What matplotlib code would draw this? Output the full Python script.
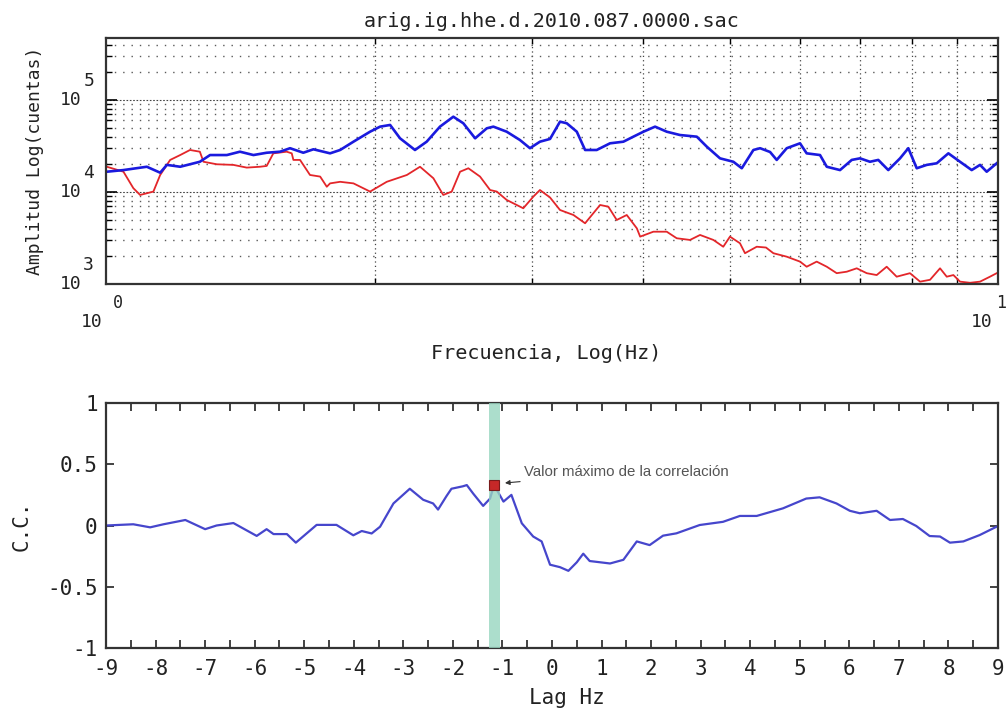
import matplotlib
matplotlib.use("Agg")
import matplotlib.pyplot as plt
from matplotlib.ticker import NullFormatter, MultipleLocator
from matplotlib.transforms import offset_copy

# espectros (Hz, cuentas)
freq_blue = [1.002, 1.046, 1.111, 1.150, 1.170, 1.211, 1.274, 1.308, 1.366, 1.413,
             1.463, 1.514, 1.567, 1.608, 1.664, 1.708, 1.783, 1.830, 1.894, 1.977,
             2.029, 2.082, 2.136, 2.220, 2.288, 2.368, 2.451, 2.515, 2.593, 2.672,
             2.718, 2.813, 2.911, 2.987, 3.065, 3.146, 3.228, 3.285, 3.371, 3.444,
             3.549, 3.673, 3.802, 3.901, 4.004, 4.126, 4.252, 4.400, 4.595, 4.715,
             4.879, 5.050, 5.161, 5.318, 5.411, 5.552, 5.648, 5.796, 5.998, 6.102,
             6.316, 6.427, 6.651, 6.855, 7.003, 7.185, 7.341, 7.533, 7.765, 7.933,
             8.107, 8.320, 8.537, 8.797, 9.066, 9.343, 9.546, 9.712, 9.966]
amp_blue = [16600, 17300, 18800, 16200, 19700, 18800, 21300, 25200, 25200, 27400,
            25200, 26700, 27400, 29900, 26700, 29100, 26300, 28600, 35200, 45200,
            51300, 53500, 38300, 28600, 35200, 51300, 65800, 55800, 38300, 49200,
            51300, 45200, 36700, 29900, 35200, 37700, 58100, 55800, 45200, 28600,
            28600, 33800, 35200, 39900, 45200, 51300, 45200, 41600, 39900, 31100,
            23200, 21300, 18100, 28600, 29900, 27200, 22300, 29900, 33800, 26300,
            25200, 18800, 17300, 22300, 23200, 21300, 22300, 17300, 23200, 29900,
            18100, 19700, 20500, 26300, 21300, 17300, 19700, 16600, 20500]

freq_red = [1.002, 1.046, 1.073, 1.092, 1.130, 1.150, 1.180, 1.211, 1.242, 1.274,
            1.286, 1.331, 1.389, 1.438, 1.488, 1.514, 1.540, 1.594, 1.615, 1.622,
            1.650, 1.693, 1.738, 1.768, 1.783, 1.830, 1.894, 1.977, 2.064, 2.174,
            2.249, 2.328, 2.388, 2.441, 2.494, 2.548, 2.626, 2.695, 2.742, 2.813,
            2.936, 3.013, 3.065, 3.146, 3.228, 3.342, 3.444, 3.580, 3.657, 3.737,
            3.835, 3.936, 3.970, 4.108, 4.252, 4.363, 4.515, 4.634, 4.796, 4.920,
            5.006, 5.137, 5.204, 5.364, 5.494, 5.599, 5.796, 5.998, 6.102, 6.262,
            6.427, 6.594, 6.768, 6.944, 7.125, 7.311, 7.502, 7.698, 7.967, 8.177,
            8.390, 8.610, 8.760, 8.912, 9.066, 9.303, 9.546, 9.795, 9.966]
amp_red = [18800, 16600, 11000, 9280, 10100, 15300, 22300, 25200, 28600, 27400,
           21300, 20000, 19700, 18400, 18800, 19200, 26300, 27400, 26300, 22300,
           22300, 15300, 14700, 11400, 12400, 12900, 12400, 10100, 12900, 15300,
           18800, 14100, 9280, 10100, 16600, 18100, 14700, 10500, 10100, 8190,
           6650, 8890, 10500, 8710, 6370, 5620, 4570, 7220, 6920, 4960,
           5620, 4030, 3270, 3700, 3700, 3140, 3010, 3410, 3010, 2540,
           3270, 2770, 2160, 2540, 2490, 2160, 1980, 1750, 1540, 1750,
           1540, 1310, 1360, 1480, 1310, 1250, 1540, 1200, 1310, 1060,
           1110, 1480, 1200, 1250, 1060, 1030, 1060, 1200, 1310]

# correlacion cruzada
lag = [-9.0, -8.45, -8.11, -7.84, -7.4, -7.0, -6.77, -6.43, -5.96, -5.76,
       -5.62, -5.35, -5.17, -4.75, -4.35, -4.01, -3.84, -3.64, -3.47, -3.2,
       -2.87, -2.6, -2.4, -2.3, -2.13, -2.03, -1.8, -1.72, -1.59, -1.39,
       -1.25, -1.17, -0.98, -0.82, -0.61, -0.38, -0.21, -0.04, 0.16, 0.33,
       0.50, 0.63, 0.76, 1.17, 1.44, 1.71, 1.97, 2.24, 2.51, 2.98,
       3.45, 3.79, 4.13, 4.66, 5.13, 5.40, 5.74, 6.01, 6.21, 6.55,
       6.82, 7.08, 7.35, 7.62, 7.83, 8.03, 8.30, 8.63, 9.0]
cc = [0.0, 0.01, -0.015, 0.01, 0.045, -0.03, 0.0, 0.02, -0.085, -0.03,
      -0.07, -0.07, -0.14, 0.005, 0.005, -0.08, -0.045, -0.065, -0.01, 0.18,
      0.30, 0.21, 0.18, 0.13, 0.24, 0.30, 0.32, 0.33, 0.26, 0.16,
      0.22, 0.33, 0.195, 0.25, 0.018, -0.09, -0.13, -0.32, -0.34, -0.37,
      -0.30, -0.23, -0.29, -0.31, -0.28, -0.13, -0.16, -0.083, -0.064, 0.004,
      0.03, 0.078, 0.078, 0.14, 0.22, 0.23, 0.18, 0.12, 0.10, 0.12,
      0.045, 0.053, -0.004, -0.086, -0.09, -0.14, -0.13, -0.078, -0.004]
max_lag, max_cc = -1.17, 0.33
band = (-1.27, -1.05)

lag_ticks = list(range(-9, 10))
cc_ticks = [-1, -0.5, 0, 0.5, 1]
cc_labels = ["-1", "-0.5", "0", "0.5", "1"]
amp_decades = [3, 4, 5]
freq_decades = [0, 1]

mono = "DejaVu Sans Mono"
ink = "#222222"
fig = plt.figure(figsize=(10.08, 7.11), dpi=100)

# --- espectros ---
ax1 = fig.add_axes([0.1052, 0.6006, 0.8849, 0.346])
ax1.set_xscale("log")
ax1.set_yscale("log")
ax1.plot(freq_red, amp_red, color="#e3262a", lw=1.3)
ax1.plot(freq_blue, amp_blue, color="#1a1ade", lw=1.9)
ax1.set_xlim(1, 10)
ax1.set_ylim(1e3, 4.72e5)
ax1.xaxis.set_major_formatter(NullFormatter())
ax1.xaxis.set_minor_formatter(NullFormatter())
ax1.yaxis.set_major_formatter(NullFormatter())
ax1.yaxis.set_minor_formatter(NullFormatter())
ax1.yaxis.grid(True, which="major", color="#444444", ls=(0, (1.5, 1.5)), lw=0.8)
ax1.yaxis.grid(True, which="minor", color="#5a5a5a", ls=(0, (1, 5)), lw=1.0)
ax1.xaxis.grid(True, which="minor", color="#444444", ls=(0, (1, 2.5)), lw=0.9)
ax1.tick_params(which="both", direction="in", top=True, right=True)
ax1.tick_params(which="major", length=8, width=1.2)
ax1.tick_params(which="minor", length=4, width=1.0)
for s in ax1.spines.values():
    s.set_linewidth(1.6)
    s.set_color("#333333")

ytr = ax1.get_yaxis_transform()
for k in amp_decades:
    ax1.text(-0.028, 10 ** k, "10", transform=ytr, ha="right", va="center",
             fontsize=13, family=mono, color=ink)
    ax1.text(-0.0255, 10 ** k, str(k),
             transform=offset_copy(ytr, fig=fig, y=19, units="dots"),
             ha="left", va="center", fontsize=13, family=mono, color=ink)
xtr = ax1.get_xaxis_transform()
for k in freq_decades:
    dx = -3 if k == 0 else -5
    ex = 7 if k == 0 else -2
    ax1.text(10 ** k, 0, "10", transform=offset_copy(xtr, fig=fig, x=dx, y=-38, units="dots"),
             ha="right", va="center", fontsize=13, family=mono, color=ink)
    ax1.text(10 ** k, 0, str(k), transform=offset_copy(xtr, fig=fig, x=ex, y=-19, units="dots"),
             ha="left", va="center", fontsize=12, family=mono, color=ink)

ax1.set_title("arig.ig.hhe.d.2010.087.0000.sac", fontsize=14.5, family=mono,
              color=ink, pad=8)
ax1.set_xlabel("Frecuencia, Log(Hz)", fontsize=14.5, family=mono, color=ink)
ax1.xaxis.set_label_coords(0.494, -0.245)
ax1.set_ylabel("Amplitud Log(cuentas)", fontsize=13, family=mono, color=ink)
ax1.yaxis.set_label_coords(-0.07, 0.5)

# --- correlacion ---
ax2 = fig.add_axes([0.1052, 0.0886, 0.8849, 0.3446])
ax2.plot(lag, cc, color="#4646cc", lw=1.6, zorder=2)
ax2.axvspan(band[0], band[1], color="#98d6c0", alpha=0.8, lw=0, zorder=3)
ax2.plot([max_lag], [max_cc], marker="s", ms=7, color="#c62828", mec="#7a1a1a",
         mew=0.8, zorder=4)
ax2.annotate("Valor máximo de la correlación", xy=(-0.95, 0.347), xytext=(-0.56, 0.437),
             ha="left", va="center", fontsize=10.8, family="Liberation Sans", color="#555555",
             arrowprops=dict(arrowstyle="-|>", color="#333333", lw=0.8,
                             shrinkA=1, shrinkB=0, mutation_scale=7))
ax2.set_xlim(-9, 9)
ax2.set_ylim(-1, 1)
ax2.set_xticks(lag_ticks)
ax2.set_xticklabels([str(v) for v in lag_ticks])
ax2.xaxis.set_minor_locator(MultipleLocator(0.5))
ax2.set_yticks(cc_ticks)
ax2.set_yticklabels(cc_labels)
ax2.tick_params(which="both", direction="in", top=True, right=True, length=6,
                width=1.2, labelsize=15, colors=ink)
ax2.tick_params(axis="x", pad=8)
ax2.tick_params(axis="y", pad=6)
for lab in ax2.get_xticklabels() + ax2.get_yticklabels():
    lab.set_family(mono)
for s in ax2.spines.values():
    s.set_linewidth(1.6)
    s.set_color("#333333")
ax2.set_xlabel("Lag Hz", fontsize=15, family=mono, color=ink)
ax2.xaxis.set_label_coords(0.517, -0.163)
ax2.set_ylabel("C.C.", fontsize=15, family=mono, color=ink)
ax2.yaxis.set_label_coords(-0.083, 0.5)

fig.savefig("out.png", dpi=100)
